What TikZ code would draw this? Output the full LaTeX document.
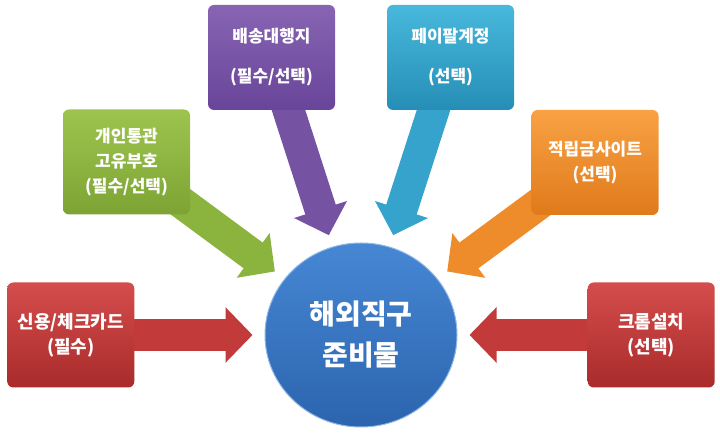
\documentclass[tikz,border=0pt]{standalone}
\usepackage{fontspec}
\setmainfont{Noto Sans CJK KR}
\usetikzlibrary{shapes.geometric, arrows.meta, backgrounds, positioning}
\definecolor{redTop}{HTML}{D44D4C}
\definecolor{redBot}{HTML}{A92B2B}
\definecolor{redArr}{HTML}{C23A3A}
\definecolor{greenTop}{HTML}{9EC44F}
\definecolor{greenBot}{HTML}{7DA334}
\definecolor{greenArr}{HTML}{8BB43F}
\definecolor{purpleTop}{HTML}{8864B3}
\definecolor{purpleBot}{HTML}{684599}
\definecolor{purpleArr}{HTML}{7652A3}
\definecolor{cyanTop}{HTML}{48B8DC}
\definecolor{cyanBot}{HTML}{268EB6}
\definecolor{cyanArr}{HTML}{35A3CB}
\definecolor{orangeTop}{HTML}{F8A244}
\definecolor{orangeBot}{HTML}{E07A1B}
\definecolor{orangeArr}{HTML}{EE8C2C}
\definecolor{blueTop}{HTML}{4687D4}
\definecolor{blueBot}{HTML}{2C64AE}
\begin{document}
\begin{tikzpicture}[x=1bp, y=1bp,
    box/.style={rounded corners=6bp, minimum width=127bp, minimum height=105bp,
      text=white, align=center, font=\bfseries\fontsize{17bp}{25bp}\selectfont},
    redbox/.style={box, top color=redTop, bottom color=redBot,
      font=\bfseries\fontsize{18bp}{25bp}\selectfont},
    flow/.style={line width=32bp, -{Triangle[length=27bp, width=54bp]}, shorten >=12bp}]
  \useasboundingbox (0,0) rectangle (720,434);
  \node[ellipse, minimum width=192bp, minimum height=184bp, top color=blueTop,
    bottom color=blueBot, draw=blueTop!60!white, line width=1bp, text=white,
    align=center, font=\bfseries\fontsize{28bp}{41bp}\selectfont]
    (J) at (361,99) {해외직구\\준비물};
  \node[redbox, left=130bp of J]
    (K) {신용/체크카드\\(필수)};
  \node[redbox, right=130bp of J]
    (G) {크롬설치\\(선택)};
  \node[box, top color=greenTop, bottom color=greenBot]
    (T) at (126.5,272) {개인통관\\고유부호\\(필수/선택)};
  \node[box, top color=purpleTop, bottom color=purpleBot]
    (B) at (271.5,376.5) {배송대행지\\[15bp](필수/선택)};
  \node[box, top color=cyanTop, bottom color=cyanBot]
    (P) at (450.5,376.5) {페이팔계정\\[15bp](선택)};
  \node[box, top color=orangeTop, bottom color=orangeBot]
    (R) at (595,271.5) {적립금사이트\\(선택)};
  \begin{scope}[on background layer]
    \draw[flow, redArr] (K.center) -- (J);
    \draw[flow, redArr] (G.center) -- (J);
    \draw[flow, greenArr] (T.center) -- (J);
    \draw[flow, purpleArr] (B.center) -- (J);
    \draw[flow, cyanArr] (P.center) -- (J);
    \draw[flow, orangeArr] (R.center) -- (J);
  \end{scope}
\end{tikzpicture}
\end{document}
